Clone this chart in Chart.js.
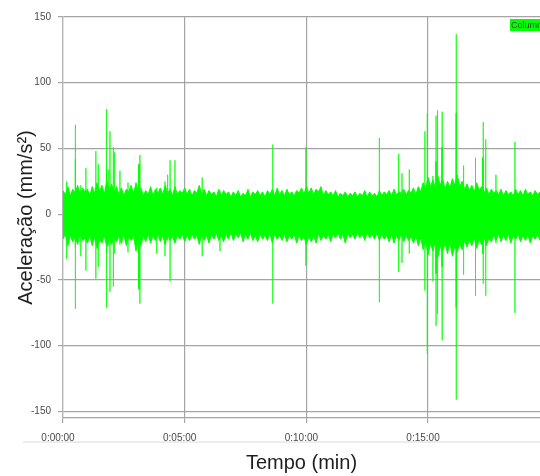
<!DOCTYPE html>
<html>
<head>
<meta charset="utf-8">
<script src="https://cdn.jsdelivr.net/npm/chart.js@4.4.1/dist/chart.umd.min.js"></script>
<style>
  html, body { margin: 0; padding: 0; background: #fff; }
  #wrap { width: 540px; height: 476px; }
</style>
</head>
<body>
<div id="wrap"><canvas id="accelChart" width="540" height="476"></canvas></div>
<script>
// Time axis (minutes) and tick labels
const xTicks = [0, 5, 10, 15];
const yTicks = [-150, -100, -50, 0, 50, 100, 150];
const xMax = 19.6;

// Noise band envelope, one value every 0.1 min
const bandStep = 0.1;
const bandUpper = [
  18,15,21,14,19,16,22,15,20,17,
  19,14,21,16,24,17,22,15,26,18,
  23,16,21,15,20,14,19,17,22,15,
  24,16,20,14,18,15,21,14,19,16,
  20,15,22,16,19,14,21,15,18,16,
  20,15,19,14,18,16,22,15,19,14,
  18,15,17,13,19,14,18,15,17,13,
  17,14,18,13,16,14,19,13,17,15,
  18,14,17,13,18,15,19,14,20,15,
  18,14,19,15,17,14,18,16,20,15,
  21,16,20,15,19,17,21,14,18,15,
  17,14,18,13,16,14,17,13,16,14,
  17,13,16,14,18,13,17,14,16,13,
  18,14,17,15,18,14,19,15,17,16,
  19,15,18,16,20,15,21,17,24,19,
  28,21,26,20,29,22,27,19,25,20,
  27,22,30,21,25,19,23,18,22,17,
  24,18,21,16,20,15,19,16,18,15,
  19,14,18,15,17,14,19,15,18,14,
  19,15,17,14,18,15,17
];
const bandLower = [
  -19,-15,-24,-16,-21,-17,-23,-15,-20,-18,
  -22,-16,-24,-17,-26,-19,-22,-16,-25,-18,
  -23,-17,-21,-16,-22,-15,-24,-17,-20,-16,
  -28,-20,-24,-16,-21,-15,-22,-16,-20,-15,
  -21,-16,-23,-15,-20,-17,-22,-16,-19,-15,
  -21,-16,-20,-15,-19,-16,-23,-15,-20,-16,
  -22,-15,-19,-14,-20,-16,-21,-15,-19,-14,
  -20,-15,-18,-14,-21,-15,-19,-14,-20,-16,
  -21,-15,-19,-16,-20,-14,-22,-15,-19,-16,
  -20,-15,-21,-16,-19,-15,-22,-16,-20,-17,
  -23,-17,-21,-16,-22,-15,-20,-16,-19,-15,
  -21,-15,-18,-14,-19,-15,-22,-14,-18,-15,
  -19,-14,-18,-15,-20,-14,-18,-15,-19,-14,
  -20,-15,-19,-16,-21,-15,-22,-16,-20,-15,
  -21,-16,-20,-17,-22,-16,-24,-18,-27,-20,
  -31,-22,-28,-21,-33,-24,-29,-22,-30,-21,
  -32,-24,-29,-22,-27,-20,-25,-19,-24,-18,
  -26,-19,-23,-17,-24,-18,-21,-16,-20,-15,
  -21,-16,-20,-15,-22,-16,-19,-15,-21,-16,
  -20,-15,-22,-16,-19,-15,-20
];

// Isolated peaks (time in min, max and min in mm/s²)
const spikeTimes = [0.15, 0.51, 0.73, 0.94, 1.35, 1.45, 1.79, 1.88, 1.93, 2.07, 2.12, 2.34, 2.67,
  3.12, 3.16, 3.85, 4.19, 4.3, 4.4, 4.6, 5.72, 6.45, 8.62, 9.98, 13.0, 13.79, 13.93, 14.23,
  14.87, 14.97, 15.2, 15.33, 15.39, 15.58, 16.16, 16.46, 16.95, 17.27, 17.37, 17.79, 18.57];
const spikeHigh = [25, 68, 22, 35, 48, 38, 80, 34, 63, 51, 47, 33, 24,
  38, 45, 20, 25, 30, 41, 41, 28, 18, 53, 51, 58, 46, 31, 34,
  63, 77, 29, 75, 79, 78, 137, 37, 43, 70, 57, 30, 55];
const spikeLow = [-34, -72, -32, -43, -49, -40, -71, -24, -59, -55, -30, -23, -29,
  -57, -68, -30, -32, -20, -51, -20, -32, -28, -68, -39, -67, -44, -37, -30,
  -58, -106, -51, -85, -76, -96, -141, -46, -62, -53, -62, -22, -75];

// Denser inner part of the strongest peaks
const coreTimes = [0.51, 1.79, 3.12, 15.33, 15.58, 16.16, 17.25];
const coreHigh = [42, 34, 38, 40, 51, 77, 43];
const coreLow = [-25, -28, -57, -45, -40, -71, -30];

const GREEN = '#00ff00';
const tickFont = { family: "'Liberation Sans', Arial, sans-serif", size: 10 };
const titleFont = { family: "'Liberation Sans', Arial, sans-serif", size: 20 };

function bandPoints(values) {
    return values.map((v, i) => ({ x: +(i * bandStep).toFixed(2), y: v }));
}

function spikePoints(times, highs, lows) {
    const pts = [];
    times.forEach((t, i) => {
        pts.push({ x: t, y: highs[i] });
        pts.push({ x: t, y: lows[i] });
        pts.push({ x: t, y: null });
    });
    return pts;
}

function timeLabel(v) {
    return '0:' + String(v).padStart(2, '0') + ':00';
}

// Faint separator under the tick labels and the series tag in the corner
const decorations = {
    id: 'decorations',
    afterDraw(chart) {
        const ctx = chart.ctx;
        ctx.save();
        ctx.fillStyle = '#ececec';
        ctx.fillRect(23, 441, 517, 2);
        ctx.fillStyle = GREEN;
        ctx.fillRect(510, 19, 32, 12);
        ctx.fillStyle = '#3a3a3a';
        ctx.font = "9px 'Liberation Sans', sans-serif";
        ctx.textBaseline = 'middle';
        ctx.fillText('Column1', 511, 25.5);
        ctx.restore();
    }
};

const ctx = document.getElementById('accelChart').getContext('2d');
const accelChart = new Chart(ctx, {
    type: 'line',
    data: {
        datasets: [
            {
                label: 'upper',
                data: bandPoints(bandUpper),
                borderColor: GREEN,
                borderWidth: 1,
                pointRadius: 0,
                tension: 0,
                fill: false,
                order: 1
            },
            {
                label: 'lower',
                data: bandPoints(bandLower),
                borderColor: GREEN,
                backgroundColor: GREEN,
                borderWidth: 1,
                pointRadius: 0,
                tension: 0,
                fill: '-1',
                order: 0
            },
            {
                label: 'peaks',
                data: spikePoints(spikeTimes, spikeHigh, spikeLow),
                borderColor: 'rgba(0,255,0,0.55)',
                borderWidth: 1,
                pointRadius: 0,
                spanGaps: false,
                fill: false,
                order: 3
            },
            {
                label: 'core',
                data: spikePoints(coreTimes, coreHigh, coreLow),
                borderColor: GREEN,
                borderWidth: 1,
                pointRadius: 0,
                spanGaps: false,
                fill: false,
                order: 2
            }
        ]
    },
    options: {
        responsive: false,
        animation: false,
        layout: { padding: { top: 17, right: 0, left: 0, bottom: 0 } },
        plugins: {
            legend: { display: false },
            tooltip: { enabled: false }
        },
        scales: {
            x: {
                type: 'linear',
                min: 0,
                max: xMax,
                afterBuildTicks: axis => { axis.ticks = xTicks.map(v => ({ value: v })); },
                afterFit: axis => { axis.height = 58; },
                grid: { color: '#a4a4a4', lineWidth: 1.2, tickLength: 5 },
                border: { color: '#a4a4a4', width: 1.2 },
                ticks: {
                    font: tickFont,
                    color: '#4a4a4a',
                    padding: 9,
                    labelOffset: -5,
                    maxRotation: 0,
                    callback: v => timeLabel(v)
                },
                title: {
                    display: true,
                    text: 'Tempo (min)',
                    font: titleFont,
                    color: '#1e1e1e',
                    padding: { top: 0, bottom: 1 }
                }
            },
            y: {
                min: -155,
                max: 150,
                afterBuildTicks: axis => { axis.ticks = yTicks.map(v => ({ value: v })); },
                afterFit: axis => { axis.width = 63; },
                grid: { color: '#a4a4a4', lineWidth: 1.2, tickLength: 5 },
                border: { color: '#b5b5b5', width: 1.2 },
                ticks: {
                    font: tickFont,
                    color: '#4a4a4a',
                    padding: 7
                },
                title: {
                    display: true,
                    text: 'Aceleração (mm/s²)',
                    font: titleFont,
                    color: '#1e1e1e',
                    padding: { top: 14, bottom: 0 }
                }
            }
        }
    },
    plugins: [decorations]
});
</script>
</body>
</html>
